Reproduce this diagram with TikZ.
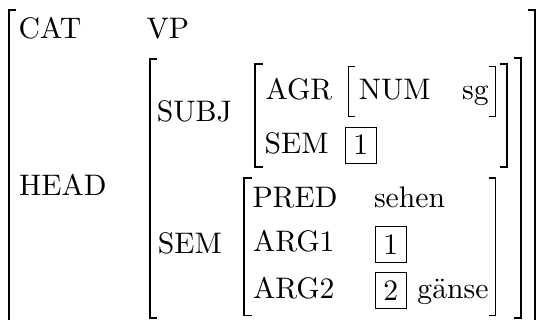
\documentclass[tikz,border=0pt]{standalone}
\usepackage{graphicx}
\newcommand\bigtxt[1]{\scalebox{2.97}{#1}}
\begin{document}
\begin{tikzpicture}[x=1pt,y=-1pt,
  lbl/.style={anchor=base west,inner sep=0pt,font=\fontsize{10}{12}\selectfont},
  big/.style={line width=1.9pt,line cap=butt,line join=miter},
  small/.style={line width=1.2pt,line cap=butt,line join=miter},
  tagbox/.style={draw,line width=0.8pt,minimum width=31.5pt,minimum height=36pt,inner sep=0pt,font=\fontsize{10}{12}\selectfont}]
\useasboundingbox (0,0) rectangle (536,320);
\clip (0,0) rectangle (536,320);
% texts
\node[lbl] (cat) at (18.5,38.3) {\bigtxt{CAT}};
\node[lbl] (vp) at (146.3,38.3) {\bigtxt{VP}};
\node[lbl] (head) at (19,196) {\bigtxt{HEAD}};
\node[lbl] (subj) at (156.6,121.7) {\bigtxt{SUBJ}};
\node[lbl] (agr) at (265.5,99.3) {\bigtxt{AGR}};
\node[lbl] (num) at (358.7,99.3) {\bigtxt{NUM}};
\node[lbl] (sg) at (462,99.3) {\bigtxt{sg}};
\node[lbl] (sems) at (264.5,153.3) {\bigtxt{SEM}};
\node[tagbox] (t1a) at (360.9,145) {\bigtxt{1}};
\node[lbl] (semh) at (157.6,254) {\bigtxt{SEM}};
\node[lbl] (pred) at (252.3,207.8) {\bigtxt{PRED}};
\node[lbl] (sehen) at (373.8,207.8) {\bigtxt{sehen}};
\node[lbl] (arg1) at (252.9,252) {\bigtxt{ARG1}};
\node[tagbox] (t1b) at (390.7,244.8) {\bigtxt{1}};
\node[lbl] (arg2) at (252.9,298.3) {\bigtxt{ARG2}};
\node[tagbox] (t2) at (390.7,290.5) {\bigtxt{2}};
\node[lbl] (ganse) at (417.2,298.3) {\bigtxt{g\"anse}};
% brackets
\draw[big] (15.5,10) -- (8.7,10) -- (8.7,340);
\draw[big] (528,10) -- (535,10) -- (535,340);
\draw[big] (157,59) -- (150,59) -- (150,318) -- (157,318);
\draw[big] (514,58.3) -- (521,58.3) -- (521,318) -- (514,318);
\draw[big] (263,64) -- (255,64) -- (255,167) -- (263,167);
\draw[big] (499.5,64) -- (506.7,64) -- (506.7,167) -- (499.5,167);
\draw[small] (355,66.5) -- (348.3,66.5) -- (348.3,116.7) -- (355,116.7);
\draw[small] (489,66.5) -- (495.5,66.5) -- (495.5,116.7) -- (489,116.7);
\draw[big] (251.7,178.3) -- (243.8,178.3) -- (243.8,315.5) -- (251.7,315.5);
\draw[big] (488.5,178.3) -- (495.5,178.3) -- (495.5,315.5) -- (488.5,315.5);
\end{tikzpicture}
\end{document}
